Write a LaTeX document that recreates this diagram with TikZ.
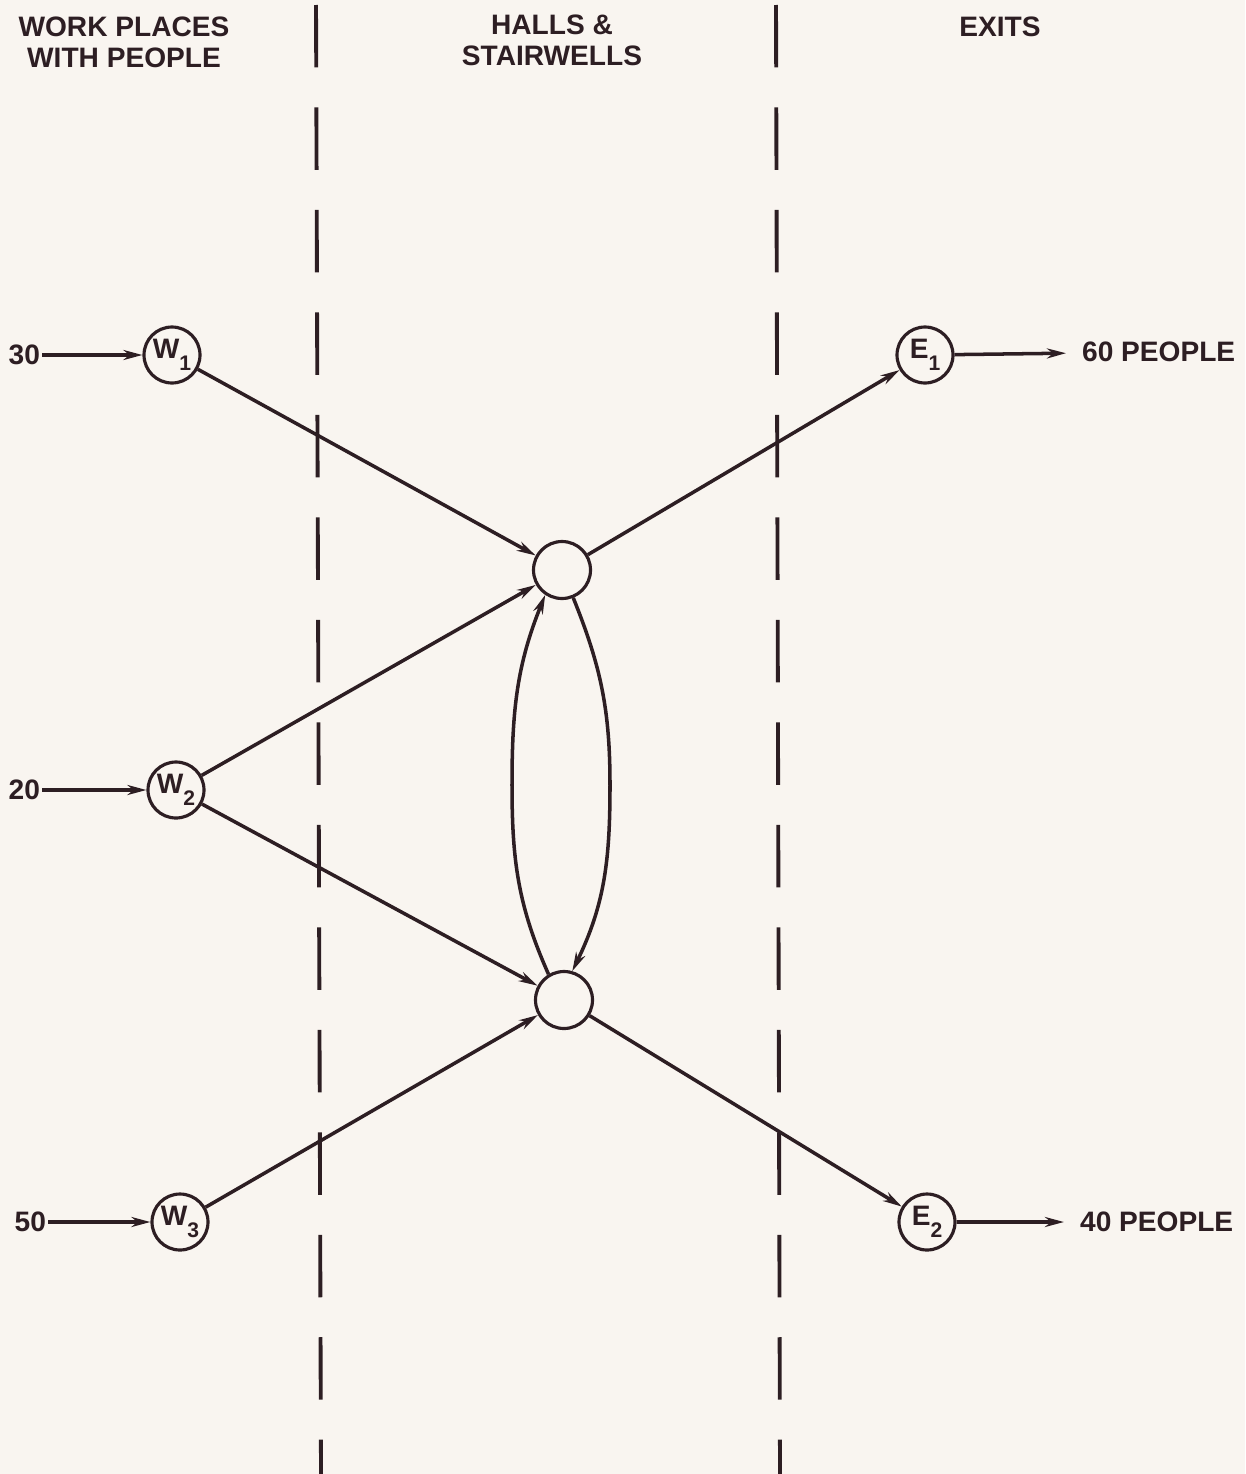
\documentclass[tikz,border=0pt]{standalone}
\usepackage{fontspec}
\setmainfont{Liberation Sans}
\usetikzlibrary{arrows.meta}
\definecolor{ink}{RGB}{45,30,35}
\definecolor{paper}{RGB}{249,245,240}
\newcommand\lowidx[1]{\raisebox{-0.8ex}{\fontsize{12}{12}\selectfont #1}}

\begin{document}
\begin{tikzpicture}[x=0.02cm, y=-0.02cm,
    place/.style={circle, draw=ink, line width=1.8pt, minimum size=1.12cm, inner sep=0pt, text=ink, font=\bfseries\fontsize{16}{18}\selectfont},
    hall/.style={circle, draw=ink, line width=1.8pt, minimum size=1.14cm, inner sep=0pt},
    tag/.style={text=ink, inner sep=1pt, font=\bfseries\fontsize{16}{18}\selectfont},
    head/.style={text=ink, align=center, font=\bfseries\fontsize{16}{17.6}\selectfont},
    flow/.style={-{Stealth[length=0.38cm,width=0.2cm]}, line width=2pt, draw=ink},
    boundary/.style={draw=ink, line width=2.2pt, dash pattern=on 1.25cm off 0.8cm, dash phase=-0.1cm}
]
\fill[paper] (0,0) rectangle (1245,1474);
\useasboundingbox (0,0) rectangle (1245,1474);

% Column headings
\node[head] (hwork) at (124,42) {WORK PLACES\\WITH PEOPLE};
\node[head] (hhall) at (552,40) {HALLS \&\\STAIRWELLS};
\node[head] (hexit) at (1000,27) {EXITS};

% Column boundaries
\coordinate (b1top) at (316,0);
\coordinate (b1bot) at (321,1474);
\coordinate (b2top) at (776,0);
\coordinate (b2bot) at (780,1474);
\draw[boundary] (b1top) -- (b1bot);
\draw[boundary] (b2top) -- (b2bot);

% Work places
\node[place] (w1) at (172,355) {W\lowidx{1}};
\node[place] (w2) at (176,790) {W\lowidx{2}};
\node[place] (w3) at (180,1222) {W\lowidx{3}};

% Halls and stairwells
\node[hall] (h1) at (562,570) {};
\node[hall] (h2) at (564,1000) {};
\coordinate (lmid) at (512,785);
\coordinate (rmid) at (610,785);

% Exits
\node[place] (e1) at (925,355) {E\lowidx{1}};
\node[place] (e2) at (927,1222) {E\lowidx{2}};

% People in and out
\node[tag, anchor=east] (n30) at (42,355) {30};
\node[tag, anchor=east] (n20) at (42,790) {20};
\node[tag, anchor=east] (n50) at (48,1222) {50};
\node[tag, anchor=west] (p60) at (1080,352) {60 PEOPLE};
\node[tag, anchor=west] (p40) at (1078,1222) {40 PEOPLE};

% Flows
\draw[flow] (n30) -- (w1);
\draw[flow] (n20) -- (w2);
\draw[flow] (n50) -- (w3);

\draw[flow] (w1) -- (h1);
\draw[flow] (w2) -- (h1);
\draw[flow] (w2) -- (h2);
\draw[flow] (w3) -- (h2);

\draw[flow] (h1) -- (e1);
\draw[flow] (h2) -- (e2);

\draw[flow] (h2.121) to[out=114, in=-90] (lmid) to[out=90, in=-112] (h1.236);
\draw[flow] (h1.-68) to[out=-68, in=90] (rmid) to[out=-90, in=64] (h2.74);

\draw[flow, shorten >=8pt] (e1) -- (p60);
\draw[flow, shorten >=8pt] (e2) -- (p40);

\end{tikzpicture}
\end{document}
